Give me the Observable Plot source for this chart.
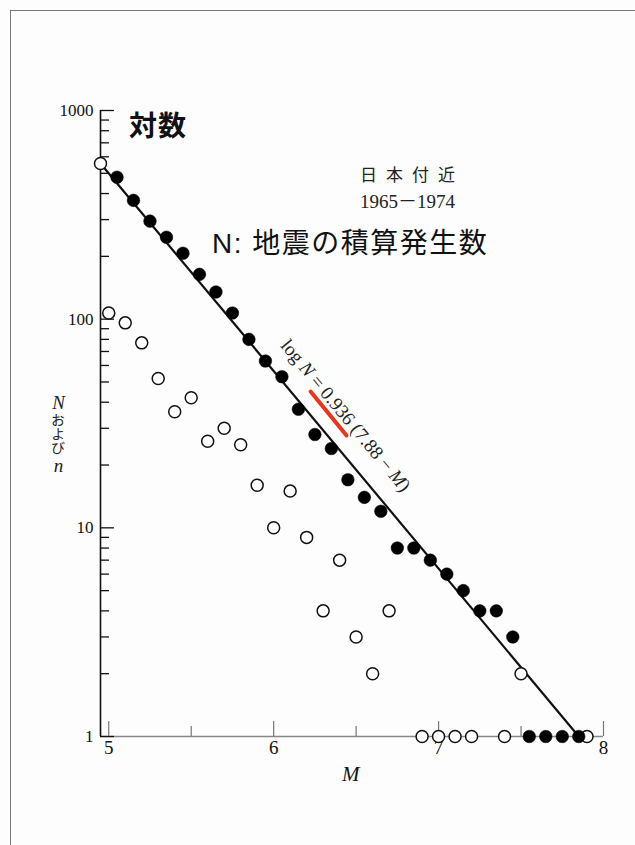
<!DOCTYPE html>
<html>
<head>
<meta charset="utf-8">
<script src="https://cdn.jsdelivr.net/npm/d3@7"></script>
<script src="https://cdn.jsdelivr.net/npm/@observablehq/plot@0.6"></script>
<style>
  html, body { margin: 0; padding: 0; background: #fdfdfd; }
  #page { position: relative; width: 635px; height: 845px; overflow: hidden; background: #fdfdfd; }
  #frame { position: absolute; left: 10px; top: 10px; right: -2px; bottom: -2px; border-top: 1.5px solid #777; border-left: 1.5px solid #777; }
  #chart { position: absolute; left: 0; top: 0; }
  .lbl { position: absolute; white-space: nowrap; line-height: 1; color: #111; }
  #t1 { left: 129px; top: 104px; font: bold 28px "Noto Sans CJK JP", sans-serif; letter-spacing: 1px; }
  #t2 { left: 360px; top: 161px; font: 17px "Noto Sans CJK JP", sans-serif; letter-spacing: 9px; color: #222; }
  #t3 { left: 360px; top: 186px; font: 19px "Liberation Serif", "Noto Sans CJK JP", serif; color: #222; }
  #t4 { left: 212px; top: 221px; font: 28px "Liberation Sans", "Noto Sans CJK JP", sans-serif; letter-spacing: 1.5px; }
  #ylab { position: absolute; left: 47px; top: 392px; writing-mode: vertical-rl; text-orientation: upright; line-height: 22px; white-space: nowrap; color: #222; }
  #ylab .lat { font: italic 19px "Liberation Serif", serif; line-height: 22px; }
  #ylab .kana { font: 14px "Noto Sans CJK JP", sans-serif; line-height: 22px; }
  #xlab { position: absolute; left: 342px; top: 764px; font: italic 21px "Liberation Serif", serif; line-height: 1; color: #111; }
</style>
</head>
<body>
<div id="page">
  <div id="frame"></div>
  <div id="chart"></div>
  <div class="lbl" id="t1">対数</div>
  <div class="lbl" id="t2">日本付近</div>
  <div class="lbl" id="t3">1965－1974</div>
  <div class="lbl" id="t4">N: 地震の積算発生数</div>
  <div id="ylab"><span class="lat">N</span><span class="kana">および</span><span class="lat">n</span></div>
  <div id="xlab">M</div>
</div>
<script>
// --- data ---
// n: number of earthquakes in each 0.1 magnitude bin (open circles)
const nM   = [5.0, 5.1, 5.2, 5.3, 5.4, 5.5, 5.6, 5.7, 5.8, 5.9, 6.0, 6.1, 6.2, 6.3, 6.4, 6.5, 6.6, 6.7, 6.9, 7.0, 7.1, 7.2, 7.4, 7.5, 7.9];
const nVal = [107, 96, 77, 52, 36, 42, 26, 30, 25, 16, 10, 15, 9, 4, 7, 3, 2, 4, 1, 1, 1, 1, 1, 2, 1];
// N: cumulative number (filled circles)
const NM   = [5.05, 5.15, 5.25, 5.35, 5.45, 5.55, 5.65, 5.75, 5.85, 5.95, 6.05, 6.15, 6.25, 6.35, 6.45, 6.55, 6.65, 6.75, 6.85, 6.95, 7.05, 7.15, 7.25, 7.35, 7.45, 7.55, 7.65, 7.75, 7.85];
const NVal = [479, 371, 295, 247, 207, 164, 135, 107, 80, 63, 53, 37, 28, 24, 17, 14, 12, 8, 8, 7, 6, 5, 4, 4, 3, 1, 1, 1, 1];
// total count (open circle at the top of the line)
const totalM = [4.95];
const totalN = [557];
// fitted line log N = 0.936 (7.88 - M), end points as drawn
const fitM = [4.95, 7.85];
const fitN = [557, 1];
// red highlight under the coefficient
const redM = [6.224, 6.442];
const redN = [45, 27.7];
// equation label
const eqText = "log N = 0.936 (7.88 − M)";
const eqM = [6.436];
const eqN = [34.5];
// ticks
const xMajor = [5, 6, 7, 8];
const xMinor = [5.5, 6.5, 7.5];
const yMajor = [1, 10, 100, 1000];
const yMinor = [2,3,4,5,6,7,8,9,20,30,40,50,60,70,80,90,200,300,400,500,600,700,800,900];

const serif = "Liberation Serif, Times New Roman, serif";
const pts = (xs, ys) => xs.map((x, i) => ({x, y: ys[i]}));

const chart = Plot.plot({
  width: 635,
  height: 845,
  marginLeft: 100,
  marginRight: 32,
  marginTop: 110,
  marginBottom: 109,
  style: {background: "transparent", color: "#111", overflow: "visible"},
  x: {domain: [4.95, 8]},
  y: {type: "log", domain: [1, 1000]},
  marks: [
    // axis lines
    Plot.ruleY([1], {stroke: "#888", strokeWidth: 1.6}),
    Plot.ruleX([4.95], {stroke: "#111", strokeWidth: 1.6}),
    // y axis ticks (inward) and labels
    Plot.axisY({ticks: yMajor, tickSize: -14, tickPadding: 21, tickFormat: d => String(d), fontSize: 17, fontFamily: serif, label: null, stroke: "#111", strokeWidth: 1.3}),
    Plot.axisY({ticks: yMinor, tickSize: -9, tickFormat: () => "", label: null, stroke: "#111", strokeWidth: 1.3}),
    // x axis ticks (inward) and labels
    Plot.axisX({ticks: xMajor, tickSize: -15, tickPadding: 19, tickFormat: d => String(d), fontSize: 19, fontFamily: serif, label: null, stroke: "#777", strokeWidth: 1.2}),
    Plot.axisX({ticks: xMinor, tickSize: -10, tickFormat: () => "", label: null, stroke: "#777", strokeWidth: 1.2}),
    // fitted line
    Plot.line(pts(fitM, fitN), {x: "x", y: "y", stroke: "#111", strokeWidth: 2.2}),
    // red highlight
    Plot.line(pts(redM, redN), {x: "x", y: "y", stroke: "#e8351c", strokeWidth: 4}),
    // equation
    Plot.text(pts(eqM, eqN), {x: "x", y: "y", text: () => eqText, rotate: 50.3, fontSize: 19, fontFamily: serif, fill: "#222", textAnchor: "middle"}),
    // open circles n
    Plot.dot(pts(nM, nVal), {x: "x", y: "y", r: 6, fill: "white", stroke: "#111", strokeWidth: 1.5}),
    // filled circles N
    Plot.dot(pts(NM, NVal), {x: "x", y: "y", r: 6.3, fill: "#000", stroke: "#000", strokeWidth: 0.5}),
    // total
    Plot.dot(pts(totalM, totalN), {x: "x", y: "y", r: 6, fill: "white", stroke: "#111", strokeWidth: 1.5})
  ]
});

// italic N and M inside the equation label
chart.querySelectorAll("text").forEach(t => {
  if (t.textContent === eqText) {
    const parts = [["log ", false], ["N", true], [" = 0.936 (7.88 − ", false], ["M", true], [")", false]];
    t.textContent = "";
    for (const [s, it] of parts) {
      const ts = document.createElementNS("http://www.w3.org/2000/svg", "tspan");
      ts.textContent = s;
      if (it) ts.setAttribute("font-style", "italic");
      t.appendChild(ts);
    }
  }
});

document.getElementById("chart").appendChild(chart);
</script>
</body>
</html>
